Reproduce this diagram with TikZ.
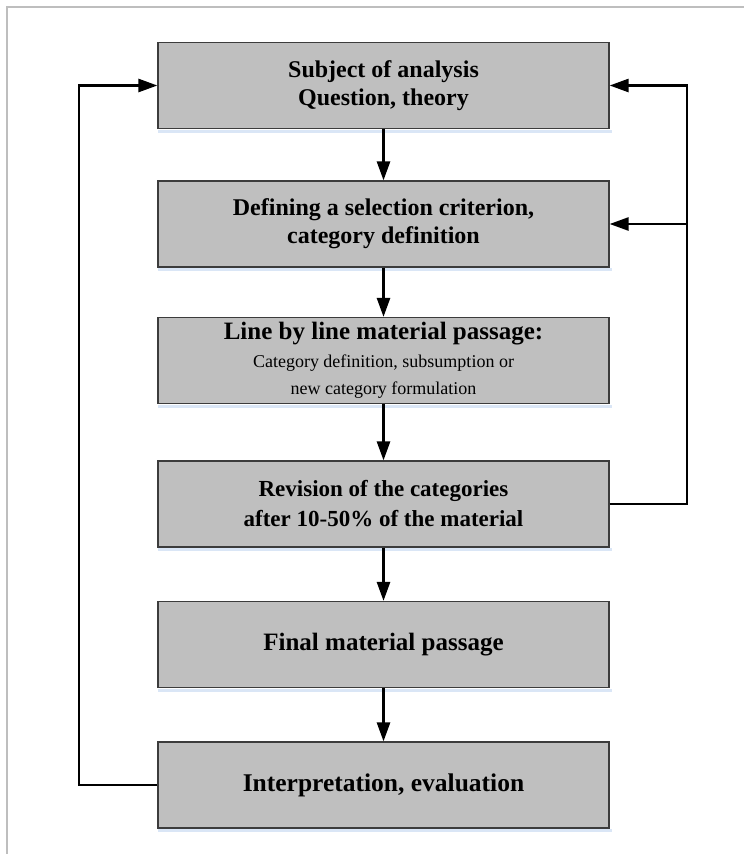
\documentclass[tikz,border=0pt]{standalone}
\usepackage{fontspec}
\setmainfont{Liberation Serif}
\usetikzlibrary{arrows.meta}
\definecolor{boxfill}{RGB}{191,191,191}
\definecolor{boxline}{RGB}{60,60,60}
\definecolor{framegray}{RGB}{190,190,190}
\definecolor{glow}{RGB}{218,230,246}
\tikzset{
  stepbox/.style={draw=boxline, line width=1.2pt, fill=boxfill, rectangle,
    minimum width=451pt, minimum height=86pt, inner sep=0pt, align=center,
    font=\bfseries\fontsize{24}{28}\selectfont},
  conn/.style={line width=2.6pt, black, line join=miter},
  tip/.style={-{Triangle[length=19pt,width=13pt]}},
}
\begin{document}
\begin{tikzpicture}[x=1pt,y=-1pt]
\useasboundingbox (0,0) rectangle (744,854);
% outer frame
\draw[framegray, line width=1.5pt] (7,854) -- (7,7) -- (745,7);
% boxes
\node[stepbox] (b1) at (383.5,85.5) {Subject of analysis\\Question, theory};
\node[stepbox] (b2) at (383.5,224) {Defining a selection criterion,\\category definition};
\node[stepbox, font=\fontsize{18}{27.5}\selectfont] (b3) at (383.5,360.5)
  {{\bfseries\fontsize{25}{27.5}\selectfont Line by line material passage:}\\Category definition, subsumption or\\new category formulation};
\node[stepbox, font=\bfseries\fontsize{23}{30}\selectfont] (b4) at (383.5,504) {Revision of the categories\\after 10-50\% of the material};
\node[stepbox, font=\bfseries\fontsize{25}{28}\selectfont] (b5) at (383.5,644.5) {Final material passage};
\node[stepbox, font=\bfseries\fontsize{25.5}{28}\selectfont] (b6) at (383.5,785) {Interpretation, evaluation};
% faint glow under boxes
\foreach \b in {b1,b2,b3,b4,b5,b6}{
  \fill[glow] ([xshift=1pt,yshift=-0.6pt]\b.south west) rectangle ([xshift=2pt,yshift=-3.5pt]\b.south east);
}
% routing coordinates
\coordinate (rx) at (687,0);
\coordinate (lx) at (79,0);
% vertical flow
\draw[conn,tip] (b1) -- (b2);
\draw[conn,tip] (b2) -- (b3);
\draw[conn,tip] (b3) -- (b4);
\draw[conn,tip] (b4) -- (b5);
\draw[conn,tip] (b5) -- (b6);
% right feedback loop
\draw[conn,tip] (b4.east) -- (b4.east -| rx) |- (b1.east);
\draw[conn,tip] (b2.east -| rx) -- (b2.east);
% left feedback loop
\draw[conn,tip] (b6.west) -- (b6.west -| lx) |- (b1.west);
\end{tikzpicture}
\end{document}
